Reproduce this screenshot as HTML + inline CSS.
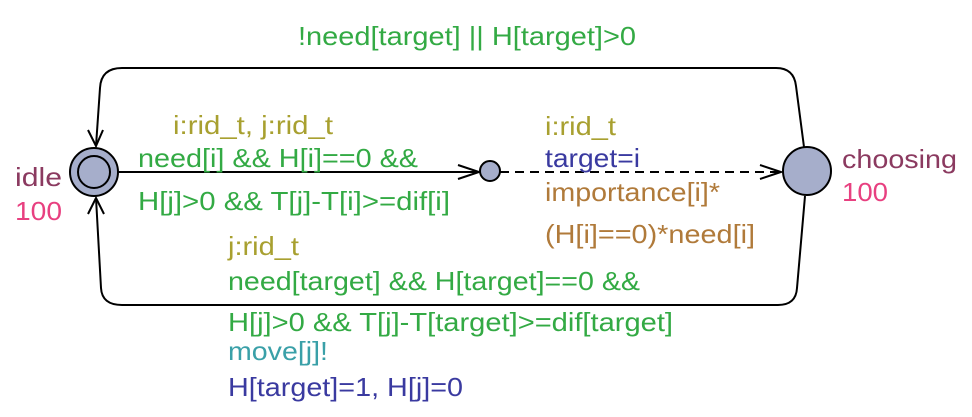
<!DOCTYPE html>
<html><head><meta charset="utf-8"><style>html,body{margin:0;padding:0;background:#fff}</style></head><body>
<svg width="972" height="412" xmlns="http://www.w3.org/2000/svg" font-family="Liberation Sans, Arial, sans-serif" font-size="26">
<g fill="none" stroke="#000" stroke-width="2">
<path d="M804,147 L796,86 Q794,68 776,68 L122,68 Q101,68 100,88 L96,146"/>
<path d="M88,130 L96,146 L103,130"/>
<path d="M805,196 L797,288 Q796,305 778,305 L122,305 Q102,305 101,288 L96,198"/>
<path d="M88,214 L96,198 L104,214"/>
<path d="M118,172 L480,172"/>
<path d="M458,165 L479,172 L458,179"/>
<path d="M500,172 L781,172" stroke-dasharray="9,6"/>
<path d="M760,165 L781,172 L760,179"/>
</g>
<circle cx="94" cy="172" r="24" fill="#a6aecb" stroke="#000" stroke-width="2"/>
<circle cx="94" cy="172" r="16" fill="#a6aecb" stroke="#000" stroke-width="2"/>
<circle cx="807" cy="171" r="24" fill="#a6aecb" stroke="#000" stroke-width="2"/>
<circle cx="490" cy="171" r="10" fill="#a6aecb" stroke="#000" stroke-width="2"/>
<text x="298" y="45" fill="#33aa44" textLength="338" lengthAdjust="spacingAndGlyphs">!need[target] || H[target]&gt;0</text>
<text x="173" y="134" fill="#a8a030" textLength="160" lengthAdjust="spacingAndGlyphs">i:rid_t, j:rid_t</text>
<text x="138" y="167" fill="#33aa44" textLength="280" lengthAdjust="spacingAndGlyphs">need[i] &amp;&amp; H[i]==0 &amp;&amp;</text>
<text x="138" y="210" fill="#33aa44" textLength="312" lengthAdjust="spacingAndGlyphs">H[j]&gt;0 &amp;&amp; T[j]-T[i]&gt;=dif[i]</text>
<text x="545" y="135" fill="#a8a030" textLength="71" lengthAdjust="spacingAndGlyphs">i:rid_t</text>
<text x="545" y="167" fill="#3a3aa0" textLength="95" lengthAdjust="spacingAndGlyphs">target=i</text>
<text x="545" y="201" fill="#b07a3a" textLength="175" lengthAdjust="spacingAndGlyphs">importance[i]*</text>
<text x="545" y="243" fill="#b07a3a" textLength="210" lengthAdjust="spacingAndGlyphs">(H[i]==0)*need[i]</text>
<text x="228" y="255" fill="#a8a030" textLength="71" lengthAdjust="spacingAndGlyphs">j:rid_t</text>
<text x="228" y="290" fill="#33aa44" textLength="412" lengthAdjust="spacingAndGlyphs">need[target] &amp;&amp; H[target]==0 &amp;&amp;</text>
<text x="228" y="331" fill="#33aa44" textLength="445" lengthAdjust="spacingAndGlyphs">H[j]&gt;0 &amp;&amp; T[j]-T[target]&gt;=dif[target]</text>
<text x="228" y="360" fill="#3aa0a8" textLength="100" lengthAdjust="spacingAndGlyphs">move[j]!</text>
<text x="228" y="396" fill="#3a3aa0" textLength="235" lengthAdjust="spacingAndGlyphs">H[target]=1, H[j]=0</text>
<text x="15" y="186" fill="#8b3a60" textLength="47" lengthAdjust="spacingAndGlyphs">idle</text>
<text x="15" y="220" fill="#e84080" textLength="47" lengthAdjust="spacingAndGlyphs">100</text>
<text x="842" y="168" fill="#8b3a60" textLength="115" lengthAdjust="spacingAndGlyphs">choosing</text>
<text x="842" y="201" fill="#e84080" textLength="46" lengthAdjust="spacingAndGlyphs">100</text>
</svg>
</body></html>
